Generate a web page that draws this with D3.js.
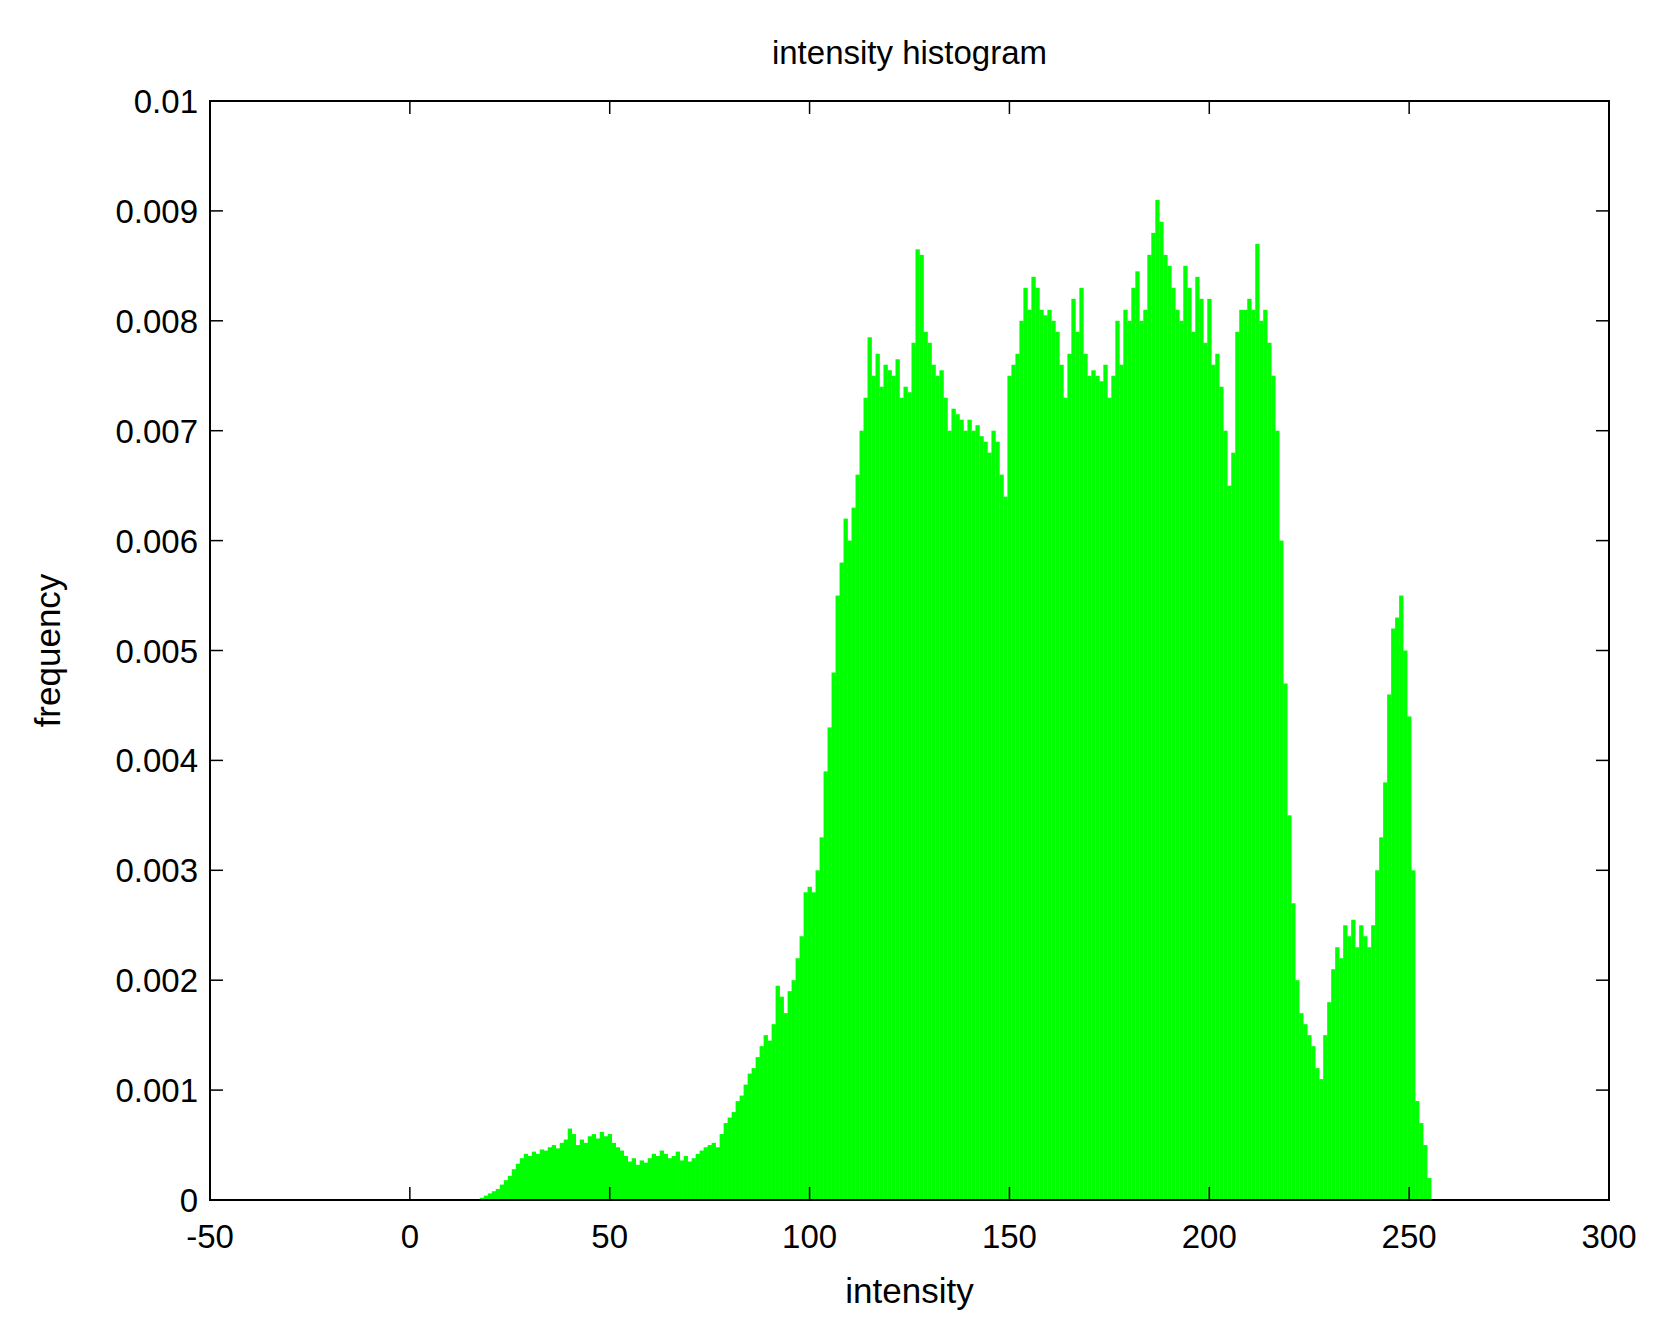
<!DOCTYPE html>
<html><head><meta charset="utf-8">
<script src="https://cdn.jsdelivr.net/npm/d3@7"></script>
<style>body{margin:0;background:#fff}text{font-family:"Liberation Sans",Arial,sans-serif;fill:#000}</style>
</head><body><svg id="c" width="1663" height="1336"></svg>
<script>
const bins = d3.range(0,256);
const values = [
0,0,0,0,0,0,0,0,0,0, 0,0,0,0,0,0,0,0,0.02,0.04,
0.06,0.08,0.1,0.14,0.18,0.22,0.28,0.33,0.38,0.42,
0.40,0.44,0.42,0.46,0.45,0.48,0.50,0.47,0.52,0.55,
0.65,0.60,0.50,0.55,0.52,0.58,0.60,0.56,0.62,0.58,
0.60,0.52,0.48,0.45,0.40,0.35,0.38,0.32,0.36,0.34,
0.38,0.42,0.40,0.45,0.42,0.38,0.40,0.44,0.36,0.40,
0.35,0.38,0.42,0.45,0.48,0.50,0.52,0.48,0.60,0.70,
0.75,0.80,0.90,0.95,1.05,1.15,1.20,1.30,1.40,1.50,
1.45,1.60,1.95,1.85,1.70,1.90,2.00,2.20,2.40,2.80,
2.85,2.80,3.00,3.30,3.90,4.30,4.80,5.50,5.80,6.20,
6.0,6.3,6.6,7.0,7.3,7.85,7.5,7.7,7.4,7.6,
7.55,7.5,7.65,7.3,7.4,7.35,7.8,8.65,8.6,7.9,
7.8,7.6,7.5,7.55,7.3,7.0,7.2,7.15,7.1,7.0,
7.1,7.0,7.05,6.95,6.9,6.8,7.0,6.9,6.6,6.4,
7.5,7.6,7.7,8.0,8.3,8.1,8.4,8.3,8.1,8.05,
8.1,8.0,7.9,7.6,7.3,7.7,8.2,7.9,8.3,7.7,
7.5,7.55,7.5,7.45,7.6,7.3,7.5,8.0,7.6,8.1,
8.0,8.3,8.45,8.0,8.1,8.6,8.8,9.1,8.9,8.6,
8.5,8.3,8.1,8.0,8.5,8.3,7.9,8.4,8.2,7.8,
8.2,7.6,7.7,7.4,7.0,6.5,6.8,7.9,8.1,8.1,
8.2,8.1,8.7,8.0,8.1,7.8,7.5,7.0,6.0,4.7,
3.5,2.7,2.0,1.7,1.6,1.5,1.4,1.2,1.1,1.5,
1.8,2.1,2.3,2.2,2.5,2.4,2.55,2.3,2.5,2.4,
2.3,2.5,3.0,3.3,3.8,4.6,5.2,5.3,5.5,5.0,
4.4,3.0,0.9,0.7,0.5,0.2].map(v=>v/1000);
const xTicks = [-50,0,50,100,150,200,250,300];
const yTicks = [0,0.001,0.002,0.003,0.004,0.005,0.006,0.007,0.008,0.009,0.01];
const yLabels = ["0","0.001","0.002","0.003","0.004","0.005","0.006","0.007","0.008","0.009","0.01"];

const L=210,R=1609,T=101,B=1200;
const svg=d3.select("#c");
const x=d3.scaleLinear().domain([-50,300]).range([L,R]);
const y=d3.scaleLinear().domain([0,0.01]).range([B,T]);
svg.append("g").selectAll("rect").data(bins).join("rect")
 .attr("x",d=>x(d-0.5)).attr("width",x(1)-x(0)+0.3)
 .attr("y",(d,i)=>y(values[i])).attr("height",(d,i)=>B-y(values[i]))
 .attr("fill","#00ff00");
svg.append("rect").attr("x",L).attr("y",T).attr("width",R-L).attr("height",B-T).attr("fill","none").attr("stroke","#000").attr("stroke-width",2);
const tl=13;
xTicks.forEach(t=>{
 svg.append("line").attr("x1",x(t)).attr("x2",x(t)).attr("y1",B).attr("y2",B-tl).attr("stroke","#000").attr("stroke-width",1.5);
 svg.append("line").attr("x1",x(t)).attr("x2",x(t)).attr("y1",T).attr("y2",T+tl).attr("stroke","#000").attr("stroke-width",1.5);
 svg.append("text").attr("x",x(t)).attr("y",B+48).attr("text-anchor","middle").attr("font-size",33).text(t);
});
yTicks.forEach((t,i)=>{
 svg.append("line").attr("x1",L).attr("x2",L+tl).attr("y1",y(t)).attr("y2",y(t)).attr("stroke","#000").attr("stroke-width",1.5);
 svg.append("line").attr("x1",R).attr("x2",R-tl).attr("y1",y(t)).attr("y2",y(t)).attr("stroke","#000").attr("stroke-width",1.5);
 svg.append("text").attr("x",L-12).attr("y",y(t)+12).attr("text-anchor","end").attr("font-size",33).text(yLabels[i]);
});
svg.append("text").attr("x",(L+R)/2).attr("y",64).attr("text-anchor","middle").attr("font-size",33).text("intensity histogram");
svg.append("text").attr("x",(L+R)/2).attr("y",1303).attr("text-anchor","middle").attr("font-size",35).text("intensity");
svg.append("text").attr("transform",`translate(60,${(T+B)/2}) rotate(-90)`).attr("text-anchor","middle").attr("font-size",35).text("frequency");
</script></body></html>
